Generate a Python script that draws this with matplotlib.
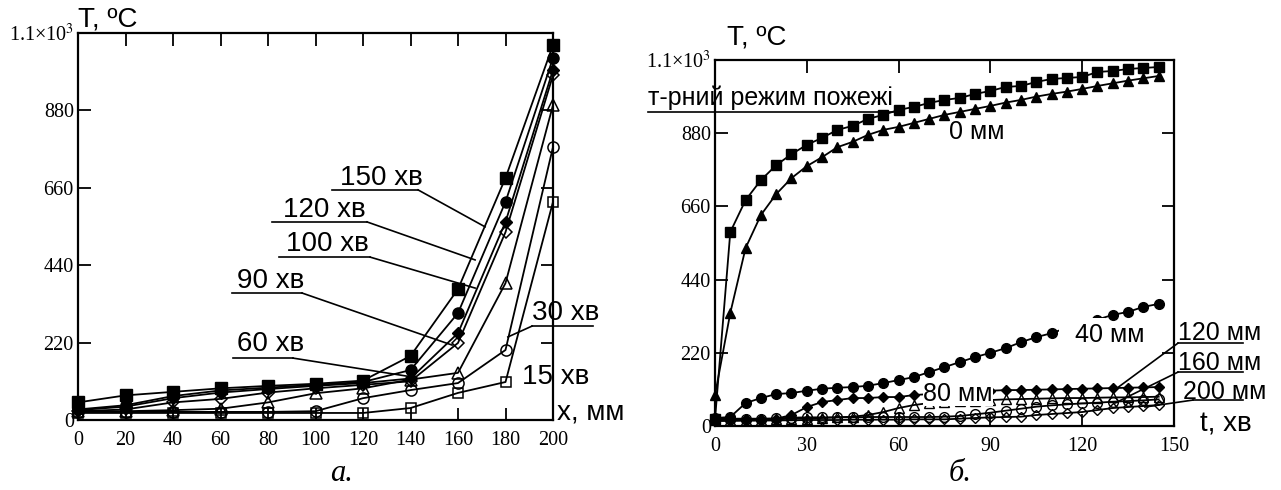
import matplotlib
matplotlib.use("Agg")
import matplotlib.pyplot as plt
from matplotlib.patches import Rectangle

plt.rcParams["mathtext.fontset"] = "stix"

# ---------------- data: panel a ----------------
x_mm = [0, 20, 40, 60, 80, 100, 120, 140, 160, 180, 200]
T_15 = [20, 20, 20, 20, 20, 20, 20, 34, 77, 108, 620]
T_30 = [23, 23, 23, 23, 23, 25, 62, 85, 105, 199, 776]
T_60 = [25, 25, 28, 32, 50, 76, 90, 115, 134, 389, 895]
T_90 = [25, 30, 50, 60, 78, 90, 100, 110, 219, 534, 980]
T_100 = [28, 38, 62, 78, 88, 97, 105, 118, 247, 563, 995]
T_120 = [30, 42, 68, 84, 92, 100, 108, 142, 304, 620, 1029]
T_150 = [50, 70, 80, 90, 97, 103, 112, 182, 372, 688, 1066]
labels_a = ["150 хв", "120 хв", "100 хв", "90 хв", "60 хв", "30 хв", "15 хв"]

# ---------------- data: panel b ----------------
t_min = [0, 5, 10, 15, 20, 25, 30, 35, 40, 45, 50, 55, 60, 65, 70,
         75, 80, 85, 90, 95, 100, 105, 110, 115, 120, 125, 130, 135, 140, 145]
T_fire = [20, 583, 679, 739, 784, 817, 845, 866, 890, 902, 923, 935, 950, 959, 971,
          980, 986, 998, 1007, 1019, 1022, 1034, 1043, 1046, 1049, 1064, 1067, 1073, 1076, 1079]
T_0mm = [93, 340, 535, 634, 697, 745, 781, 808, 838, 854, 875, 890, 899, 911, 923,
         935, 944, 953, 962, 972, 980, 990, 998, 1005, 1013, 1022, 1030, 1038, 1045, 1052]
T_40mm = [24, 27, 69, 84, 96, 99, 106, 112, 115, 117, 121, 129, 138, 147, 162,
          177, 192, 207, 220, 234, 252, 267, 279, 295, 308, 320, 334, 343, 358, 367]
T_80mm = [20, 20, 20, 20, 22, 33, 57, 72, 78, 84, 84, 87, 87, 93, 96,
          99, 102, 104, 106, 108, 108, 109, 110, 111, 112, 113, 114, 115, 116, 117]
T_120mm = [18, 18, 18, 18, 20, 22, 22, 24, 26, 28, 33, 42, 54, 63, 69,
           72, 74, 76, 78, 80, 81, 82, 83, 84, 84, 85, 86, 86, 87, 88]
T_160mm = [22, 22, 22, 22, 23, 25, 26, 26, 26, 26, 27, 27, 27, 27, 27,
           28, 30, 35, 40, 46, 52, 58, 62, 65, 68, 70, 73, 75, 77, 80]
T_200mm = [15, 15, 16, 16, 17, 17, 18, 18, 18, 19, 19, 19, 19, 20, 20,
           20, 22, 24, 26, 27, 28, 33, 36, 39, 42, 48, 54, 57, 60, 63]

y_ticks = [0, 220, 440, 660, 880, 1100]
y_ticklabels = ["0", "220", "440", "660", "880", "1.1×10$^{3}$"]
xa_ticks = [0, 20, 40, 60, 80, 100, 120, 140, 160, 180, 200]
xb_ticks = [0, 30, 60, 90, 120, 150]

SANS = ["Liberation Sans", "DejaVu Sans"]
SERIF = ["Liberation Serif", "DejaVu Serif"]
FS_A = 20
FS_B = 18

fig = plt.figure(figsize=(12.81, 4.9), dpi=100)
axA = fig.add_axes([78 / 1281, 70 / 490, 475 / 1281, 387 / 490])
axB = fig.add_axes([715 / 1281, 64 / 490, 459 / 1281, 366 / 490])


def style_axes(ax, xticks, xlim, xpad):
    ax.set_xlim(*xlim)
    ax.set_ylim(0, 1100)
    ax.set_xticks(xticks)
    ax.set_xticklabels([str(v) for v in xticks], family=SERIF, fontsize=14.5)
    ax.set_yticks(y_ticks)
    ax.set_yticklabels(y_ticklabels, family=SERIF, fontsize=14.5)
    ax.tick_params(direction="in", length=9, width=1.3, top=True, right=True, pad=3)
    ax.tick_params(axis="x", pad=xpad)
    for s in ax.spines.values():
        s.set_linewidth(1.6)


def ulabel(ax, text, fs, tx, ty, ux0, ux1, uy, lx0, ly0, lx1, ly1):
    ax.text(tx, ty, text, family=SANS, fontsize=fs, ha="left", va="center",
            clip_on=False, zorder=6)
    ax.plot([ux0, ux1], [uy, uy], color="k", lw=1.2, clip_on=False, zorder=6)
    ax.plot([lx0, lx1], [ly0, ly1], color="k", lw=1.2, clip_on=False, zorder=6)


# ---------------- panel a ----------------
lw = 1.3
ms = 8
axA.plot(x_mm, T_150, "-s", color="k", lw=lw, ms=ms, mfc="k", clip_on=False)
axA.plot(x_mm, T_120, "-o", color="k", lw=lw, ms=ms, mfc="k", clip_on=False)
axA.plot(x_mm, T_100, "-D", color="k", lw=lw, ms=6, mfc="k", clip_on=False)
axA.plot(x_mm, T_90, "-D", color="k", lw=lw, ms=6, mfc="none", mew=1.1, clip_on=False)
axA.plot(x_mm, T_60, "-^", color="k", lw=lw, ms=ms, mfc="none", mew=1.1, clip_on=False)
axA.plot(x_mm, T_30, "-o", color="k", lw=lw, ms=ms, mfc="none", mew=1.1, clip_on=False)
axA.plot(x_mm, T_15, "-s", color="k", lw=lw, ms=7.5, mfc="none", mew=1.1, clip_on=False)
style_axes(axA, xa_ticks, (0, 200), 8)

ulabel(axA, labels_a[0], FS_A, 110.3, 688, 107, 143.2, 654, 143.2, 654, 171.4, 549)
ulabel(axA, labels_a[1], FS_A, 86.5, 597, 81.7, 121.7, 563, 121.7, 563, 167.2, 455)
ulabel(axA, labels_a[2], FS_A, 87.5, 500, 84.6, 123.0, 463, 123.0, 463, 167.2, 375)
ulabel(axA, labels_a[3], FS_A, 66.9, 395, 64.8, 94.3, 361, 94.3, 361, 157.5, 213)
ulabel(axA, labels_a[4], FS_A, 66.9, 216, 65.3, 90.5, 176, 90.5, 176, 141.0, 122)
ulabel(axA, labels_a[5], FS_A, 191.2, 304, 191.2, 216.8, 267, 191.2, 267, 181.0, 236)
axA.text(187, 122, labels_a[6], family=SANS, fontsize=FS_A, ha="left", va="center",
         clip_on=False, zorder=6)
axA.text(0.0, 1.0, "T, ºC", transform=axA.transAxes, family=SANS, fontsize=FS_A,
         ha="left", va="bottom")
axA.text(201.5, 22, "x, мм", family=SANS, fontsize=FS_A, ha="left", va="center",
         clip_on=False)

# ---------------- panel b ----------------
msb = 7
axB.plot(t_min, T_fire, "-s", color="k", lw=lw, ms=msb, mfc="k", clip_on=False)
axB.plot(t_min, T_0mm, "-^", color="k", lw=lw, ms=msb, mfc="k", clip_on=False)
axB.plot(t_min, T_40mm, "-o", color="k", lw=lw, ms=msb, mfc="k", clip_on=False)
axB.plot(t_min, T_80mm, "-D", color="k", lw=lw, ms=5.5, mfc="k", clip_on=False)
axB.plot(t_min, T_120mm, "-^", color="k", lw=lw, ms=msb, mfc="none", mew=1.0, clip_on=False)
axB.plot(t_min, T_160mm, "-o", color="k", lw=lw, ms=msb, mfc="none", mew=1.0, clip_on=False)
axB.plot(t_min, T_200mm, "-D", color="k", lw=lw, ms=5.5, mfc="none", mew=1.0, clip_on=False)
style_axes(axB, xb_ticks, (0, 150), 8)

# white patch behind "40 мм" label (as in the reference)
axB.add_patch(Rectangle((112.5, 232), 15.0, 93, facecolor="white", edgecolor="none",
                        zorder=5))
axB.text(117.5, 273, "40 мм", family=SANS, fontsize=FS_B, ha="left", va="center", zorder=6)
axB.text(68.0, 97, "80 мм", family=SANS, fontsize=FS_B, ha="left", va="center", zorder=6,
         bbox=dict(facecolor="white", edgecolor="none", pad=0.0))
axB.text(76.5, 884, "0 мм", family=SANS, fontsize=FS_B, ha="left", va="center", zorder=6)

ulabel(axB, "120 мм", FS_B, 151.3, 280, 151.3, 172.5, 249, 151.3, 249, 131.4, 114)
ulabel(axB, "160 мм", FS_B, 151.3, 189, 151.3, 172.5, 162, 151.3, 162, 130.7, 69)
ulabel(axB, "200 мм", FS_B, 153.0, 102, 156.2, 172.5, 78, 156.2, 78, 140.5, 57)

axB.text(-21.9, 950, "т-рний режим пожежі", family=SANS, fontsize=FS_B, ha="left",
         va="bottom", clip_on=False, zorder=6)
axB.plot([-21.9, 58.2], [944, 944], color="k", lw=1.2, clip_on=False, zorder=6)

axB.text(0.026, 1.025, "T, ºC", transform=axB.transAxes, family=SANS, fontsize=FS_A,
         ha="left", va="bottom")
axB.text(158.5, 5, "t, хв", family=SANS, fontsize=FS_A, ha="left", va="center",
         clip_on=False)

fig.text(342 / 1281, 1 - 473 / 490, "а.", family=SERIF, style="italic", fontsize=22,
         ha="center", va="center")
fig.text(960 / 1281, 1 - 473 / 490, "б.", family=SERIF, style="italic", fontsize=22,
         ha="center", va="center")

fig.savefig("out.png", dpi=100, facecolor="white")
